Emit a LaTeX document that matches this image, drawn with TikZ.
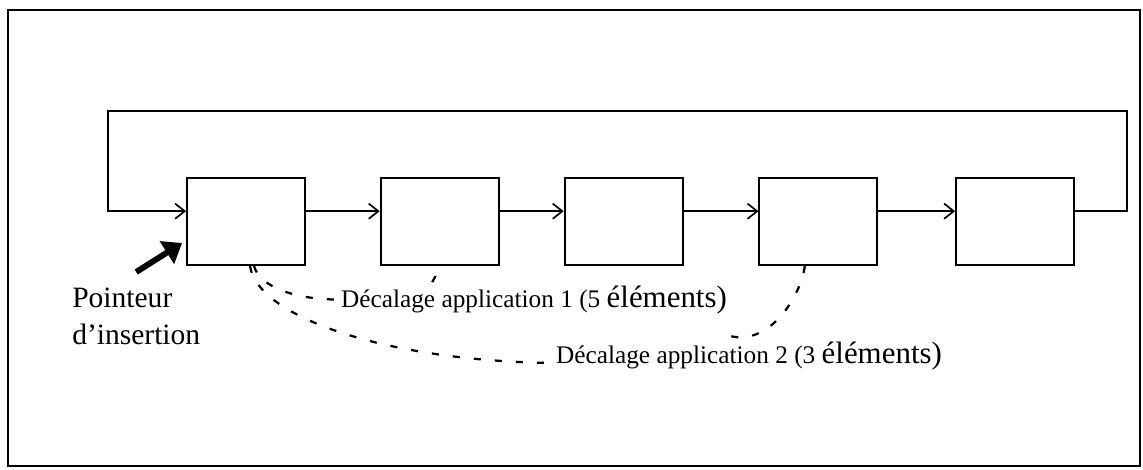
\documentclass[tikz,border=0pt]{standalone}
\usepackage{fontspec}
\setmainfont{Liberation Serif}
\usetikzlibrary{arrows.meta}

\begin{document}
\begin{tikzpicture}[
    cell/.style={draw, line width=1.3pt, inner sep=0pt, minimum width=2.95cm, minimum height=2.175cm},
    link/.style={line width=1.3pt, -{Straight Barb[length=2.4mm,width=3.8mm,line width=1.2pt]}},
    offset/.style={line width=1.6pt, dash pattern=on 5pt off 10pt},
    pointer/.style={line width=4.2pt, -{Triangle[length=4.5mm,width=6.5mm]}},
    label/.style={font=\fontsize{18}{21}\selectfont, inner sep=2pt}
  ]
  \useasboundingbox (0,0) rectangle (28.575,-11.75);
  \draw [line width=1pt] (0.2,-0.25) rectangle (28.5,-11.65);

  % the five cells of the ring
  \node [cell] (c1) at (6.15,-5.54) {};
  \node [cell] (c2) at (10.99,-5.54) {};
  \node [cell] (c3) at (15.59,-5.54) {};
  \node [cell] (c4) at (20.46,-5.54) {};
  \node [cell] (c5) at (25.375,-5.54) {};

  \draw [link] ([yshift=2.6mm]c1.east) -- ([yshift=2.6mm]c2.west);
  \draw [link] ([yshift=2.6mm]c2.east) -- ([yshift=2.6mm]c3.west);
  \draw [link] ([yshift=2.6mm]c3.east) -- ([yshift=2.6mm]c4.west);
  \draw [link] ([yshift=2.6mm]c4.east) -- ([yshift=2.6mm]c5.west);

  % back to the first cell
  \coordinate (loopR) at (28.175,-2.775);
  \coordinate (loopL) at (2.7,-2.775);
  \draw [link] ([yshift=2.6mm]c5.east) -| (loopR) -- (loopL) |- ([yshift=2.6mm]c1.west);

  % insertion pointer
  \node [anchor=north west, align=left, inner sep=0pt, font=\fontsize{21}{26}\selectfont] (ptr) at (1.8,-7.2) {Pointeur\\d’insertion};
  \draw [pointer] ([yshift=4mm]ptr.north) -- ([xshift=-1mm,yshift=5.75mm]c1.south west);

  % offsets
  \node [label, anchor=base west] (app1) at (8.45,-7.675) {Décalage application 1 (5 {\fontsize{22}{24}\selectfont éléments)}};
  \node [label, anchor=base west] (app2) at (13.825,-9.075) {Décalage application 2 (3 {\fontsize{22}{24}\selectfont éléments)}};
  \coordinate (app1end) at (18.25,-8.4);

  \draw [offset] ([xshift=2mm]c1.south) .. controls +(0.15,-0.55) and +(-1.0,0) .. (app1.west);
  \draw [offset] ([xshift=1mm]c1.south) .. controls +(0.2,-1.3) and +(-4.1,0.05) .. (app2.base west);
  \draw [offset] ([xshift=-3.4mm]c4.south) .. controls +(-0.1,-0.75) and +(1.0,-0.25) .. (app1end);
  \draw [offset] ([xshift=-1mm,yshift=-2.5mm]c2.south) -- ++(-0.1,-0.18);
\end{tikzpicture}
\end{document}
